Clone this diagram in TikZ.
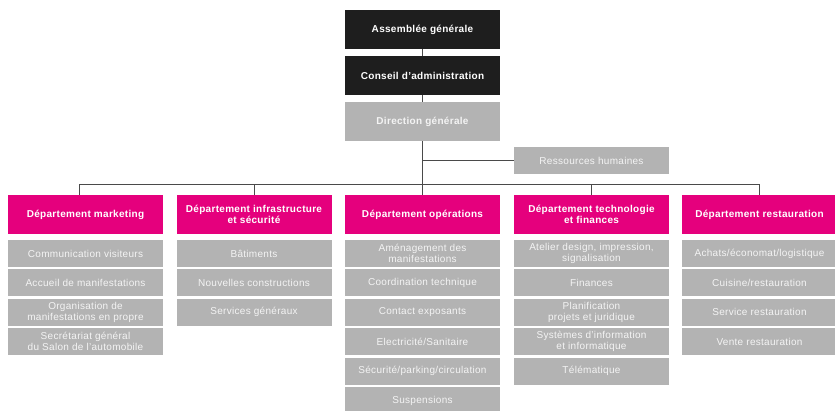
\documentclass[tikz,border=0pt]{standalone}
\usepackage{fontspec}
\setmainfont{Liberation Sans}[LetterSpace=3]
\usetikzlibrary{positioning}

\definecolor{boxblack}{HTML}{1E1E1E}
\definecolor{boxgrey}{HTML}{B3B3B3}
\definecolor{boxpink}{HTML}{E5007D}
\definecolor{linkgrey}{HTML}{4A4A4A}
\definecolor{textgrey}{HTML}{F4F4F4}

\begin{document}
\begin{tikzpicture}[
    x=1pt, y=-1pt,
    box/.style={rectangle, minimum width=155pt, minimum height=39pt, inner sep=0pt,
        align=center, font=\fontsize{10}{11}\selectfont},
    topbox/.style={box, fill=boxblack, text=white, font=\fontsize{10}{11}\selectfont\bfseries},
    dirbox/.style={box, fill=boxgrey, text=textgrey, font=\fontsize{10}{11}\selectfont\bfseries},
    deptbox/.style={box, fill=boxpink, text=white, font=\fontsize{10}{11}\selectfont\bfseries},
    itembox/.style={box, minimum height=27pt, fill=boxgrey, text=textgrey,
        font=\fontsize{10}{10.8}\selectfont},
    link/.style={draw=linkgrey, line width=0.9pt}
]
    \useasboundingbox (0,0) rectangle (835,410);

    % Organes dirigeants
    \node[topbox] (ag) at (422.5,29.5) {Assemblée générale};
    \node[topbox] (ca) at (422.5,75.5) {Conseil d’administration};
    \node[dirbox] (dg) at (422.5,121.5) {Direction générale};
    \node[itembox] (rh) at (591.5,160.5) {Ressources humaines};

    % Départements
    \node[deptbox] (mkt) at (85.5,214.5) {Département marketing};
    \node[deptbox] (infra) at (254,214.5) {Département infrastructure\\et sécurité};
    \node[deptbox] (ops) at (422.5,214.5) {Département opérations};
    \node[deptbox] (tech) at (591.5,214.5) {Département technologie\\et finances};
    \node[deptbox] (resto) at (759.5,214.5) {Département restauration};

    % Services par département
    \foreach \txt [count=\i] in {Communication visiteurs, Accueil de manifestations,
        {Organisation de\\manifestations en propre}, {Secrétariat général\\du Salon de l’automobile}}
        \node[itembox] (mkt-\i) at (85.5,253.5+29.4*\i-29.4) {\txt};
    \foreach \txt [count=\i] in {Bâtiments, Nouvelles constructions, Services généraux}
        \node[itembox] (infra-\i) at (254,253.5+29.4*\i-29.4) {\txt};
    \foreach \txt [count=\i] in {{Aménagement des\\manifestations}, Coordination technique,
        Contact exposants, Electricité/Sanitaire, Sécurité/parking/circulation, Suspensions}
        \node[itembox] (ops-\i) at (422.5,253.5+29.4*\i-29.4) {\txt};
    \foreach \txt [count=\i] in {{Atelier design, impression,\\signalisation}, Finances,
        {Planification\\projets et juridique}, {Systèmes d’information\\et informatique}, Télématique}
        \node[itembox] (tech-\i) at (591.5,253.5+29.4*\i-29.4) {\txt};
    \foreach \txt [count=\i] in {Achats/économat/logistique, Cuisine/restauration,
        Service restauration, Vente restauration}
        \node[itembox] (resto-\i) at (759.5,253.5+29.4*\i-29.4) {\txt};

    % Liaisons hiérarchiques
    \coordinate (busL) at (79,184.3);
    \coordinate (busR) at (760,184.3);
    \draw[link] (ag) -- (ca);
    \draw[link] (ca) -- (dg);
    \draw[link] (dg.south) -- (dg.south |- busL);
    \draw[link] (dg.south |- rh.west) -- (rh.west);
    \draw[link] (busL) -- (busR);
    \draw[link] (busL) -- (busL |- mkt.north);
    \foreach \d in {infra, ops, tech, resto}
        \draw[link] (\d.north |- busL) -- (\d.north);
\end{tikzpicture}
\end{document}
